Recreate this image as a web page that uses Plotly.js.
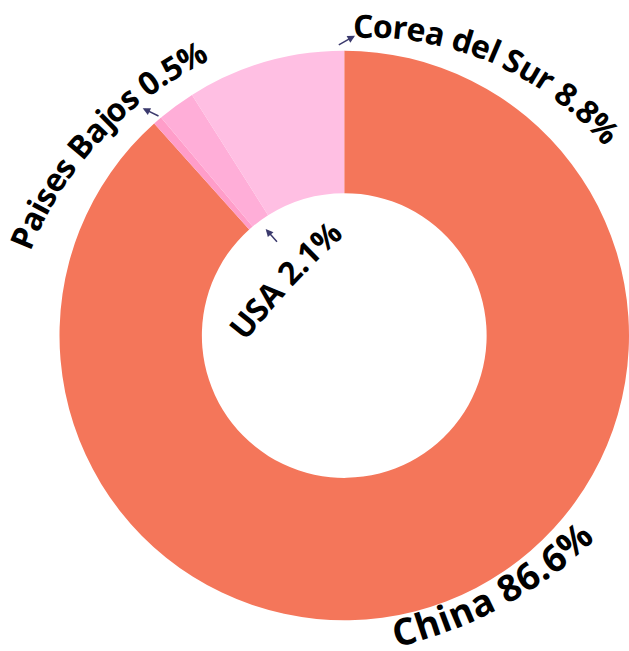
<!DOCTYPE html>
<html>
<head>
<meta charset="utf-8">
<script src="https://cdn.plot.ly/plotly-3.0.1.min.js"></script>
<style>
html,body{margin:0;padding:0;background:#fff;overflow:hidden;}
#chart{width:629px;height:651px;}
</style>
</head>
<body>
<div id="chart"></div>
<script>
// ---- data ----
const categories = ['China', 'Paises Bajos', 'USA', 'Corea del Sur'];
const shares = [86.6, 0.5, 2.1, 8.8];
const sliceColors = ['#F4765A', '#FF9DC9', '#FFAED8', '#FFBFE3'];

// ---- layout helpers (positions / styles) ----
const W = 629, H = 651;
const FONT = 'Open Sans';
// arc placement for each category label (pixel geometry)
const labelArcs = {
  'Corea del Sur': {cx: 367, cy: 351, R: 326, mid: 23.0, size: 32, mode: 'top'},
  'Paises Bajos':  {cx: 361, cy: 381, R: 367, mid: -47.3, size: 32, mode: 'top'},
  'USA':           {cx: 867.5, cy: 824.6, R: 800, mid: -47, size: 32, mode: 'top'},
  'China':         {cx: 293, cy: 217, R: 428, mid: 152.0, size: 37, mode: 'bottom'}
};
// small arrows: head point and tail offset (pixels)
const arrows = {
  'Corea del Sur': {hx: 355, hy: 35.7, ax: -17.7, ay: 10},
  'Paises Bajos':  {hx: 142.7, hy: 108.3, ax: 17.3, ay: 8.4},
  'USA':           {hx: 265.7, hy: 229, ax: 12.6, ay: 14.3}
};

const canvas = document.createElement('canvas');
const ctx = canvas.getContext('2d');
function measure(ch, size) {
  ctx.font = 'bold ' + size + 'px "' + FONT + '"';
  return ctx.measureText(ch).width;
}

const annotations = [];
categories.forEach((cat, k) => {
  const text = cat + ' ' + shares[k].toFixed(1) + '%';
  const g = labelArcs[cat];
  const chars = Array.from(text);
  const widths = chars.map(c => measure(c, g.size));
  const total = widths.reduce((a, b) => a + b, 0);
  const midS = (widths[0] / 2 + total - widths[widths.length - 1] / 2) / 2;
  let acc = 0;
  chars.forEach((c, i) => {
    const s = acc + widths[i] / 2 - midS;
    acc += widths[i];
    if (c === ' ') return;
    const dAng = (s / g.R) * 180 / Math.PI;
    const psi = g.mode === 'top' ? g.mid + dAng : g.mid - dAng;
    const rad = psi * Math.PI / 180;
    const x = g.cx + g.R * Math.sin(rad);
    const y = g.cy - g.R * Math.cos(rad);
    const rot = g.mode === 'top' ? psi : psi - 180;
    annotations.push({
      xref: 'paper', yref: 'paper', x: x / W, y: 1 - y / H,
      text: c, showarrow: false, textangle: rot,
      xanchor: 'center', yanchor: 'middle',
      font: {family: FONT, size: g.size, color: '#000', weight: 700}
    });
  });
  const a = arrows[cat];
  if (a) {
    annotations.push({
      xref: 'paper', yref: 'paper', x: a.hx / W, y: 1 - a.hy / H,
      ax: a.ax, ay: a.ay, text: '', showarrow: true,
      arrowhead: 2, arrowsize: 1, arrowwidth: 1.5, arrowcolor: '#3b3a6d'
    });
  }
});

const trace = {
  type: 'pie',
  labels: categories,
  values: shares,
  marker: {colors: sliceColors, line: {width: 0}},
  hole: 0.5,
  sort: false,
  direction: 'clockwise',
  rotation: 0,
  textinfo: 'none',
  hoverinfo: 'none',
  domain: {x: [59.5 / W, 1], y: [1 - 621 / H, 1 - 50 / H]}
};

const layout = {
  width: W, height: H,
  margin: {l: 0, r: 0, t: 0, b: 0},
  showlegend: false,
  paper_bgcolor: '#fff',
  annotations: annotations
};

Plotly.newPlot('chart', [trace], layout, {displayModeBar: false, staticPlot: true});
</script>
</body>
</html>
